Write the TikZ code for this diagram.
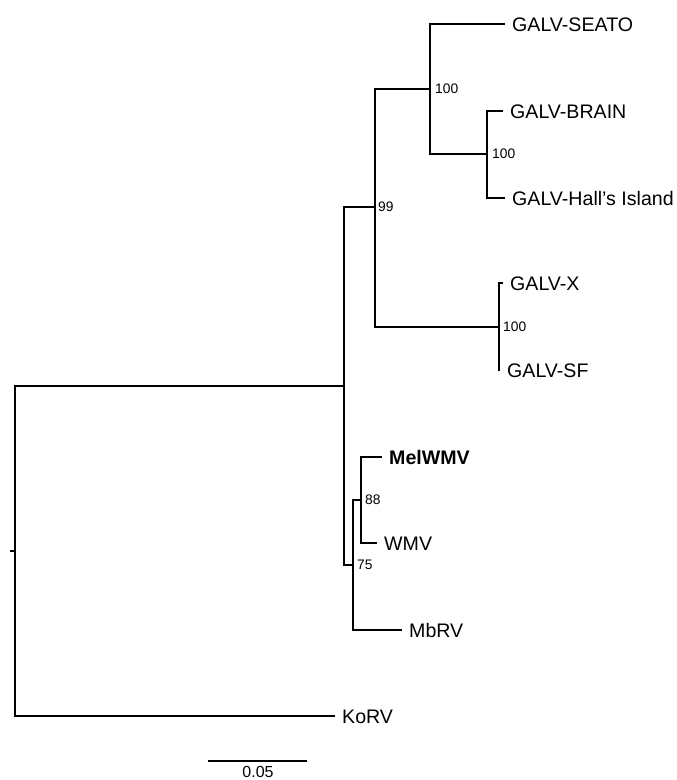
\documentclass[tikz,border=0pt]{standalone}
\usepackage{fontspec}
\setmainfont{Liberation Sans}
\usepackage{tikz}
\usetikzlibrary{positioning}
\tikzset{
  brn/.style={line width=2.2pt, line join=miter},
  tipl/.style={anchor=west, inner xsep=7pt, inner ysep=0pt, text height=14pt, text depth=0pt,
    font=\fontsize{19.6}{22}\selectfont},
  bsl/.style={anchor=west, inner xsep=3pt, inner ysep=0pt, font=\fontsize{13.8}{16}\selectfont},
  sbt/.style={anchor=north, inner sep=0pt, font=\fontsize{16}{19}\selectfont},
}

\begin{document}
\begin{tikzpicture}[x=1pt,y=-1pt]
  \useasboundingbox (0,0) rectangle (677,780);
  % internal nodes
  \coordinate (stub) at (10,551);
  \coordinate (root) at (15,551);
  \coordinate (nA) at (344,386);
  \coordinate (n99) at (375,207);
  \coordinate (n100a) at (430,89);
  \coordinate (n100b) at (487,154);
  \coordinate (n100c) at (499,327);
  \coordinate (n75) at (353,565);
  \coordinate (n88) at (361,500);
  % tips
  \node[tipl] (seato) at (505,24) {GALV-SEATO};
  \node[tipl] (brain) at (503,111) {GALV-BRAIN};
  \node[tipl] (hall) at (505,198) {GALV-Hall's Island};
  \node[tipl] (galvx) at (503,283) {GALV-X};
  \node[tipl] (galvsf) at (500,370) {GALV-SF};
  \node[tipl, font=\fontsize{19.6}{22}\selectfont\bfseries] (melwmv) at (382,457) {MelWMV};
  \node[tipl] (wmv) at (377,543) {WMV};
  \node[tipl] (mbrv) at (402,630) {MbRV};
  \node[tipl] (korv) at (335,716) {KoRV};
  % branches
  \draw[brn] (stub) -- (root);
  \draw[brn] (root) |- (nA);
  \draw[brn] (root) |- (korv.west);
  \draw[brn] (nA) |- (n99);
  \draw[brn] (nA) |- (n75);
  \draw[brn] (n99) |- (n100a);
  \draw[brn] (n99) |- (n100c);
  \draw[brn] (n100a) |- (seato.west);
  \draw[brn] (n100a) |- (n100b);
  \draw[brn] (n100b) |- (brain.west);
  \draw[brn] (n100b) |- (hall.west);
  \draw[brn] (n100c) |- (galvx.west);
  \draw[brn] (n100c) |- (galvsf.west);
  \draw[brn] (n75) |- (n88);
  \draw[brn] (n75) |- (mbrv.west);
  \draw[brn] (n88) |- (melwmv.west);
  \draw[brn] (n88) |- (wmv.west);
  % support values
  \node[bsl] (b99) at (n99) {99};
  \node[bsl, xshift=2pt] (b100a) at (n100a) {100};
  \node[bsl, xshift=2pt] (b100b) at (n100b) {100};
  \node[bsl, xshift=1pt] (b100c) at (n100c) {100};
  \node[bsl, xshift=1pt] (b88) at (n88) {88};
  \node[bsl, xshift=1pt] (b75) at (n75) {75};
  % scale bar
  \coordinate (sbl) at (208,761);
  \coordinate (sbr) at (307,761);
  \draw[brn] (sbl) -- (sbr);
  \node[sbt] (sblab) at (258,766) {0.05};
\end{tikzpicture}
\end{document}
